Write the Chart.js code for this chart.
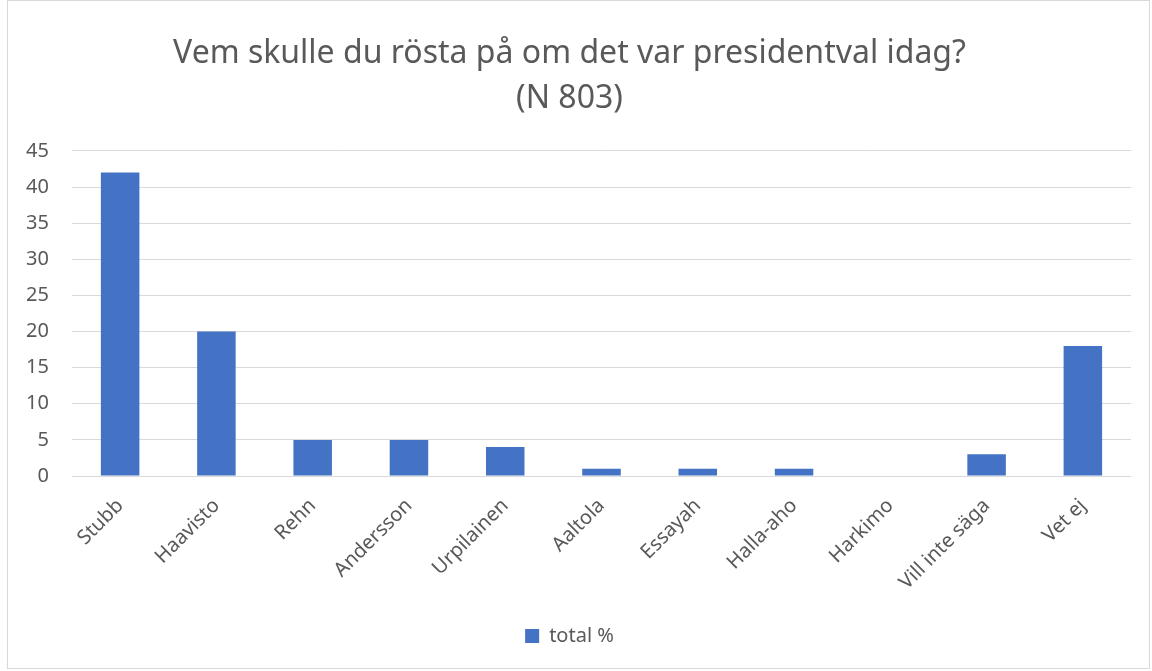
<!DOCTYPE html>
<html>
<head>
<meta charset="utf-8">
<script src="https://cdn.jsdelivr.net/npm/chart.js@4"></script>
<style>
  body { margin: 0; background: #fff; }
  #wrap { position: absolute; left: 7px; top: 0px; width: 1143px; height: 669px; border: 1px solid #d9d9d9; box-sizing: border-box; }
  #chart_canvas { position: absolute; left: 0; top: 0; }
</style>
</head>
<body>
<div id="wrap"><canvas id="chart_canvas" width="1141" height="667"></canvas></div>
<script>
// candidates and their share in percent
const categories = ["Stubb", "Haavisto", "Rehn", "Andersson", "Urpilainen", "Aaltola", "Essayah", "Halla-aho", "Harkimo", "Vill inte säga", "Vet ej"]
const total_values = [42, 20, 5, 5, 4, 1, 1, 1, 0, 3, 18]
const series_name = "total %"
const title_lines = ["Vem skulle du rösta på om det var presidentval idag?", "(N 803)"]

const text_color = "#595959"
const bar_color = "#4472C4"

Chart.defaults.font.family = "'Noto Sans', 'Open Sans', sans-serif"
Chart.defaults.color = text_color

const data_chart = {
  labels: categories,
  datasets: [{
    label: series_name,
    data: total_values,
    backgroundColor: bar_color,
    borderWidth: 0,
    barPercentage: 0.4,
    categoryPercentage: 1.0
  }]
}

const config = {
  type: 'bar',
  data: data_chart,
  options: {
    responsive: false,
    animation: false,
    layout: { padding: { left: 0, right: 18, top: 0, bottom: 12 } },
    plugins: {
      title: {
        display: true,
        text: title_lines,
        color: text_color,
        font: { size: 32, weight: 'normal', lineHeight: 1.42 },
        padding: { top: 30, bottom: 29 }
      },
      legend: {
        position: 'bottom',
        labels: { boxWidth: 14, boxHeight: 14, font: { size: 20 }, color: text_color, padding: 10 }
      },
      tooltip: { enabled: false }
    },
    scales: {
      x: {
        grid: { display: false },
        border: { display: false },
        ticks: { minRotation: 45, maxRotation: 45, font: { size: 20 }, color: text_color, autoSkip: false, padding: 10 },
        afterFit: (scale) => { scale.height = 140 }
      },
      y: {
        min: 0,
        max: 45,
        ticks: { stepSize: 5, font: { size: 20 }, color: text_color, padding: 23 },
        grid: { color: '#d9d9d9', lineWidth: 1, drawTicks: false },
        border: { display: false },
        afterFit: (scale) => { scale.width = 64 }
      }
    }
  }
}

new Chart(document.getElementById('chart_canvas'), config)
</script>
</body>
</html>
